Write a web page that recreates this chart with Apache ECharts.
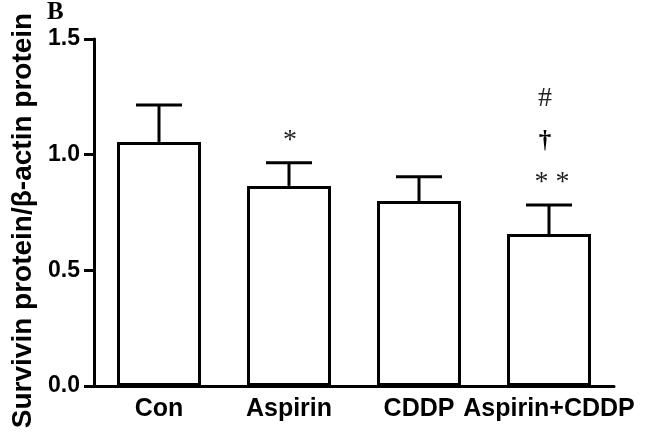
<!DOCTYPE html>
<html>
<head>
<meta charset="utf-8">
<script src="https://cdn.jsdelivr.net/npm/echarts@6/dist/echarts.min.js"></script>
<style>
html,body{margin:0;padding:0;background:#fff;}
#chart{width:646px;height:435px;}
</style>
</head>
<body>
<div id="chart"></div>
<script>
// ---- data ----
var categories = ['Con', 'Aspirin', 'CDDP', 'Aspirin+CDDP'];
var meanValues = [1.055, 0.865, 0.80, 0.657];
var sdValues = [0.16, 0.10, 0.105, 0.125];
var starMarks = ['', '*', '', '* *'];
var daggerMarks = ['', '', '', '\u2020'];
var hashMarks = ['', '', '', '#'];
var yTickLabels = ['0.0', '0.5', '1.0', '1.5'];
var yAxisTitle = 'Survivin protein/\u03b2-actin protein';
var panelLabel = 'B';

var chart = echarts.init(document.getElementById('chart'), null, {renderer: 'canvas'});

var errData = categories.map(function (c, i) { return [i, meanValues[i], sdValues[i]]; });

var option = {
  animation: false,
  backgroundColor: '#ffffff',
  grid: {left: 94, right: 32, top: 39, bottom: 49, containLabel: false},
  graphic: [{
    type: 'text', left: 47, top: 0,
    style: {text: panelLabel, fontFamily: 'Liberation Serif', fontWeight: 'bold', fontSize: 25, fill: '#000'}
  }],
  xAxis: {
    type: 'category',
    data: categories,
    axisLine: {lineStyle: {color: '#000', width: 3}},
    axisTick: {alignWithLabel: true, length: 9, lineStyle: {color: '#000', width: 3}},
    axisLabel: {interval: 0, color: '#000', fontFamily: 'Liberation Sans', fontWeight: 'bold', fontSize: 25, margin: 11}
  },
  yAxis: {
    type: 'value', min: 0, max: 1.5, interval: 0.5,
    name: yAxisTitle,
    nameLocation: 'middle', nameRotate: 90, nameGap: 56,
    nameTextStyle: {color: '#000', fontFamily: 'Liberation Sans', fontWeight: 'bold', fontSize: 28, padding: [0, 16, 0, 0]},
    axisLine: {show: true, lineStyle: {color: '#000', width: 3}},
    axisTick: {show: true, length: 10, lineStyle: {color: '#000', width: 3}},
    splitLine: {show: false},
    axisLabel: {
      color: '#000', fontFamily: 'Liberation Sans', fontWeight: 'bold', fontSize: 23, margin: 14,
      formatter: function (v) { return yTickLabels[Math.round(v / 0.5)]; }
    }
  },
  series: [{
    type: 'bar',
    data: meanValues,
    barWidth: 84,
    itemStyle: {color: '#fff', borderColor: '#000', borderWidth: 3},
    z: 2
  }, {
    type: 'custom',
    data: errData,
    z: 3,
    renderItem: function (params, api) {
      var i = api.value(0), m = api.value(1), s = api.value(2);
      var base = api.coord([i, m]);
      var top = api.coord([i, m + s]);
      var half = 23;
      var children = [
        {type: 'line', shape: {x1: top[0], y1: base[1], x2: top[0], y2: top[1]}, style: {stroke: '#000', lineWidth: 3}},
        {type: 'line', shape: {x1: top[0] - half, y1: top[1], x2: top[0] + half, y2: top[1]}, style: {stroke: '#000', lineWidth: 3}}
      ];
      if (starMarks[i]) children.push({type: 'text', x: top[0] + (starMarks[i].length > 1 ? 3 : 1), y: top[1] - 22,
        style: {text: starMarks[i], fontFamily: 'Liberation Serif', fontSize: 28, fill: '#222', align: 'center', verticalAlign: 'middle'}});
      if (daggerMarks[i]) children.push({type: 'text', x: top[0] - 4, y: top[1] - 64,
        style: {text: daggerMarks[i], fontFamily: 'Liberation Serif', fontWeight: 'bold', fontSize: 25, fill: '#000', align: 'center', verticalAlign: 'middle'}});
      if (hashMarks[i]) children.push({type: 'text', x: top[0] - 4, y: top[1] - 106,
        style: {text: hashMarks[i], fontFamily: 'Liberation Serif', fontSize: 28, fill: '#222', align: 'center', verticalAlign: 'middle'}});
      return {type: 'group', children: children};
    }
  }]
};
chart.setOption(option);
</script>
</body>
</html>
